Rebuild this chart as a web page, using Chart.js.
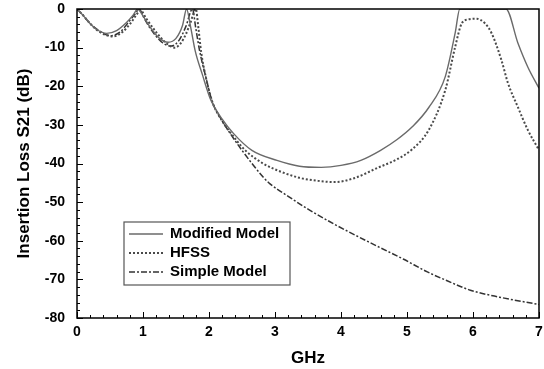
<!DOCTYPE html>
<html>
<head>
<meta charset="utf-8">
<script src="https://cdn.jsdelivr.net/npm/chart.js@4/dist/chart.umd.min.js"></script>
<style>
  html, body { margin: 0; padding: 0; background: #fff; }
  #wrap { width: 544px; height: 369px; }
</style>
</head>
<body>
<div id="wrap"><canvas id="lossChart"></canvas></div>
<script>
// values (GHz / dB)
const modifiedGHz = [0, 0.1, 0.2, 0.3, 0.45, 0.6, 0.75, 0.85, 0.92, 1.0, 1.1, 1.25, 1.38, 1.5, 1.6, 1.66, 1.72, 1.79, 1.9, 2.03, 2.2, 2.37, 2.65, 3.03, 3.37, 3.7, 4.0, 4.3, 4.6, 4.85, 5.08, 5.33, 5.58, 5.73, 5.8, 6.0, 6.3, 6.5, 6.68, 6.83, 7.0];
const modifiedDb  = [0, -1.8, -3.8, -5.3, -6.3, -5.6, -3.5, -1.6, 0, -1.8, -4.5, -7.6, -8.6, -7.6, -4.2, 0, -4.5, -10.8, -17, -23.7, -28.5, -32.2, -36.6, -39.2, -40.7, -41, -40.5, -39.2, -36.6, -33.8, -30.5, -25.5, -17.5, -6.2, 0, 0, 0, 0, -8.8, -15, -20.5];

const hfssGHz = [0, 0.1, 0.2, 0.35, 0.55, 0.7, 0.82, 0.9, 0.96, 1.05, 1.2, 1.35, 1.48, 1.57, 1.65, 1.72, 1.8, 1.84, 1.88, 1.95, 2.05, 2.2, 2.37, 2.55, 2.82, 3.1, 3.37, 3.65, 3.9, 4.2, 4.57, 4.85, 5.08, 5.33, 5.58, 5.73, 5.83, 5.93, 6.05, 6.18, 6.28, 6.43, 6.53, 6.68, 6.83, 7.0];
const hfssDb  = [0, -1.8, -3.8, -6, -7.1, -5.8, -3.5, -1.5, -0.3, -2.5, -6, -8.8, -10, -8.9, -6.5, -3.5, 0, -5, -11, -17.5, -24, -29, -33, -36.6, -40, -42.2, -43.7, -44.5, -44.8, -43.8, -41, -38.9, -36.3, -31.3, -21, -9.8, -3.7, -2.7, -2.5, -3.7, -6.2, -13.2, -19.2, -25.4, -31.3, -36.5];

const simpleGHz = [0, 0.1, 0.2, 0.35, 0.5, 0.65, 0.8, 0.88, 0.94, 1.02, 1.15, 1.3, 1.43, 1.55, 1.65, 1.75, 1.8, 1.86, 1.95, 2.05, 2.2, 2.32, 2.5, 2.82, 2.92, 3.2, 3.5, 3.93, 4.5, 4.95, 5.3, 5.6, 5.96, 6.4, 7.0];
const simpleDb  = [0, -1.8, -3.8, -5.8, -6.9, -6, -3, -1.3, 0, -2.5, -6, -8.8, -9.6, -8, -4.5, 0, -5, -11, -17.5, -24, -29, -32.2, -36.6, -43.5, -45.2, -48.5, -51.8, -56, -61, -64.8, -68, -70.3, -72.8, -74.6, -76.5];

const seriesNames = ['Modified Model', 'HFSS', 'Simple Model'];
const xTickValues = [0, 1, 2, 3, 4, 5, 6, 7];
const yTickValues = [0, -10, -20, -30, -40, -50, -60, -70, -80];
const xMinorStep = 0.2;
const yMinorStep = 2;

const FONT = '"Liberation Sans", Arial, Helvetica, sans-serif';
const lineStyles = [
  { color: '#6a6a6a', width: 1.4, dash: [] },
  { color: '#4a4a4a', width: 2, dash: [2, 2] },
  { color: '#333333', width: 1.5, dash: [6, 2, 2, 2] }
];

function toPoints(xs, ys) {
  return xs.map((v, i) => ({ x: v, y: ys[i] }));
}

const seriesData = [
  toPoints(modifiedGHz, modifiedDb),
  toPoints(hfssGHz, hfssDb),
  toPoints(simpleGHz, simpleDb)
];

// black box round the plot + inward tick marks
const framePlugin = {
  id: 'frame',
  afterDatasetsDraw(chart) {
    const { ctx, chartArea: a, scales } = chart;
    const x = scales.x, y = scales.y;
    ctx.save();
    ctx.strokeStyle = '#000';
    ctx.lineWidth = 1;
    ctx.beginPath();
    for (let i = 0; i <= Math.round(7 / xMinorStep); i++) {
      const v = i * xMinorStep;
      const major = i % 5 === 0;
      const px = Math.round(x.getPixelForValue(v)) + 0.5;
      ctx.moveTo(px, a.bottom);
      ctx.lineTo(px, a.bottom - (major ? 6 : 3));
    }
    for (let i = 0; i <= Math.round(80 / yMinorStep); i++) {
      const v = -i * yMinorStep;
      const major = i % 5 === 0;
      const py = Math.round(y.getPixelForValue(v)) + 0.5;
      ctx.moveTo(a.left, py);
      ctx.lineTo(a.left + (major ? 6 : 3), py);
    }
    ctx.stroke();
    ctx.lineWidth = 1.5;
    ctx.strokeRect(a.left, a.top, a.right - a.left, a.bottom - a.top);
    ctx.restore();
  }
};

// boxed legend sitting inside the plot area
const boxLegend = {
  id: 'boxLegend',
  afterDraw(chart) {
    const ctx = chart.ctx;
    const bx = 124, by = 222, bw = 166, bh = 63;
    ctx.save();
    ctx.fillStyle = '#fff';
    ctx.fillRect(bx, by, bw, bh);
    ctx.strokeStyle = '#555';
    ctx.lineWidth = 1.2;
    ctx.strokeRect(bx, by, bw, bh);
    ctx.font = 'bold 15px ' + FONT;
    ctx.textBaseline = 'middle';
    ctx.textAlign = 'left';
    seriesNames.forEach((name, i) => {
      const rowY = by + 12 + i * 19;
      const st = lineStyles[i];
      ctx.strokeStyle = st.color;
      ctx.lineWidth = st.width;
      ctx.setLineDash(st.dash);
      ctx.beginPath();
      ctx.moveTo(bx + 5, rowY);
      ctx.lineTo(bx + 39, rowY);
      ctx.stroke();
      ctx.setLineDash([]);
      ctx.fillStyle = '#000';
      ctx.fillText(name, bx + 46, rowY);
    });
    ctx.restore();
  }
};

const ctx = document.getElementById('lossChart').getContext('2d');

new Chart(ctx, {
  type: 'line',
  data: {
    datasets: seriesNames.map((name, i) => ({
      label: name,
      data: seriesData[i],
      borderColor: lineStyles[i].color,
      borderWidth: lineStyles[i].width,
      borderDash: lineStyles[i].dash,
      pointRadius: 0,
      fill: false,
      cubicInterpolationMode: 'monotone'
    }))
  },
  options: {
    responsive: true,
    maintainAspectRatio: false,
    animation: false,
    layout: { padding: { top: 9, right: 5, left: 0, bottom: 0 } },
    plugins: {
      legend: { display: false },
      tooltip: { enabled: false }
    },
    scales: {
      x: {
        type: 'linear',
        min: 0,
        max: 7,
        afterBuildTicks: s => { s.ticks = xTickValues.map(v => ({ value: v })); },
        afterFit: s => {
          s.height = 51;
          s.paddingLeft = 0; s.paddingRight = 0;
        },
        grid: { display: false, drawTicks: false },
        border: { display: false },
        ticks: {
          color: '#000',
          padding: 6,
          font: { family: FONT, size: 14, weight: 'bold' }
        },
        title: {
          display: true,
          text: 'GHz',
          color: '#000',
          padding: { top: 0, bottom: 0 },
          font: { family: FONT, size: 17, weight: 'bold' }
        }
      },
      y: {
        min: -80,
        max: 0,
        afterBuildTicks: s => { s.ticks = yTickValues.map(v => ({ value: v })); },
        afterFit: s => {
          s.width = 77;
          s.paddingTop = 0; s.paddingBottom = 0;
        },
        grid: { display: false, drawTicks: false },
        border: { display: false },
        ticks: {
          color: '#000',
          padding: 12,
          font: { family: FONT, size: 14, weight: 'bold' }
        },
        title: {
          display: true,
          text: 'Insertion Loss S21 (dB)',
          color: '#000',
          padding: { top: 14, bottom: 0 },
          font: { family: FONT, size: 17, weight: 'bold' }
        }
      }
    }
  },
  plugins: [framePlugin, boxLegend]
});
</script>
</body>
</html>
